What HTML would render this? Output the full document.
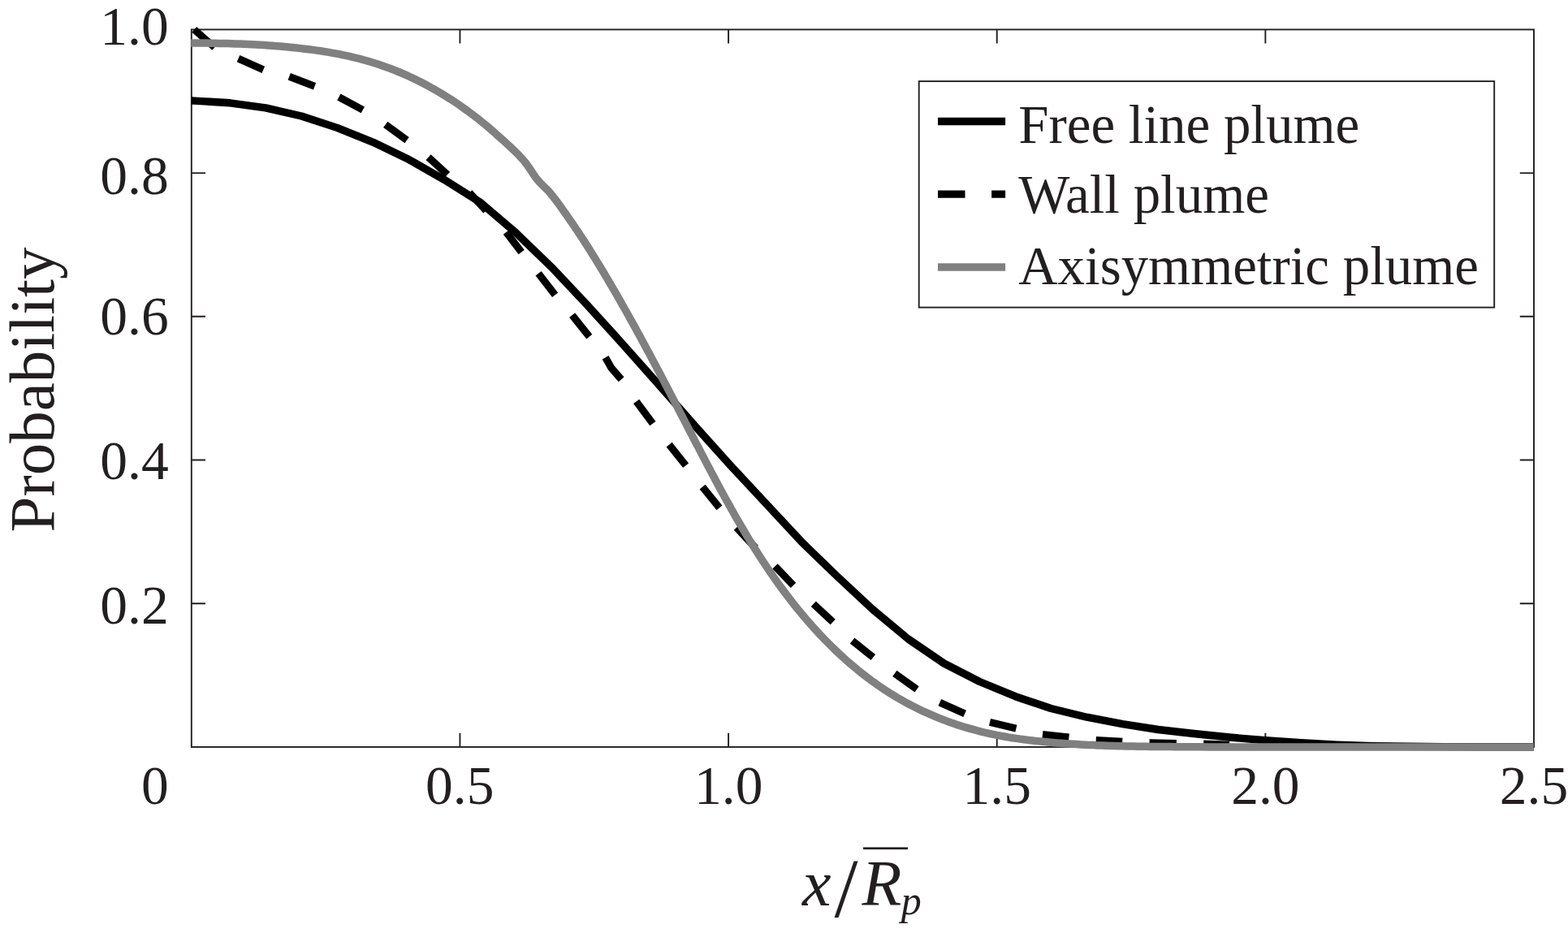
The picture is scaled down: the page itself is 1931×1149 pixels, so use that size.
<!DOCTYPE html>
<html lang="en">
<head>
<meta charset="utf-8">
<title>Probability versus x/R_p for free line, wall and axisymmetric plumes</title>
<style>
html,body{margin:0;padding:0;background:#fff;}
body{width:1931px;height:1149px;overflow:hidden;}
svg{display:block;}
text{font-family:"Liberation Serif","DejaVu Serif",serif;fill:#231f20;}
.it{font-style:italic;}
</style>
</head>
<body>
<svg width="1931" height="1149" viewBox="0 0 1931 1149">
<rect x="0" y="0" width="1931" height="1149" fill="#ffffff"/>
<g fill="none" stroke="#231f20" stroke-width="1.9">
<rect x="235.80" y="36.40" width="1653.20" height="883.55"/>
<path d="M566.44 919.95 V902.75 M566.44 36.40 V53.60"/>
<path d="M235.80 743.24 H253.00 M1889.00 743.24 H1871.80"/>
<path d="M897.08 919.95 V902.75 M897.08 36.40 V53.60"/>
<path d="M235.80 566.53 H253.00 M1889.00 566.53 H1871.80"/>
<path d="M1227.72 919.95 V902.75 M1227.72 36.40 V53.60"/>
<path d="M235.80 389.82 H253.00 M1889.00 389.82 H1871.80"/>
<path d="M1558.36 919.95 V902.75 M1558.36 36.40 V53.60"/>
<path d="M235.80 213.11 H253.00 M1889.00 213.11 H1871.80"/>
</g>
<g fill="none" stroke-linejoin="round">
<path stroke="#000" stroke-width="9.4" d="M235.8 124.0 L239.4 124.1 L283.4 126.8 L327.3 132.8 L371.3 143.0 L415.2 157.4 L459.2 175.1 L503.2 196.3 L547.1 221.3 L591.1 248.9 L635.0 286.3 L679.0 328.8 L723.0 375.4 L766.9 423.8 L810.9 473.3 L854.8 523.3 L898.8 572.4 L942.8 619.6 L986.7 666.8 L1030.7 709.5 L1074.6 750.4 L1118.6 787.0 L1162.6 817.0 L1206.5 839.5 L1250.5 857.7 L1294.4 872.5 L1338.4 883.2 L1382.4 891.6 L1426.3 898.5 L1470.3 903.5 L1514.2 908.0 L1558.2 911.8 L1602.2 914.7 L1646.1 917.1 L1690.1 918.6 L1734.0 919.3 L1778.0 919.6 L1822.0 919.7 L1865.9 919.7 L1888.8 919.7"/>
<g stroke="#000" stroke-width="9.0">
<path d="M239.2 36.4 L264.3 58.4"/>
<path d="M293.5 72.1 L324.3 85.8"/>
<path d="M356.2 94.2 L387.5 106.3"/>
<path d="M417.4 119.5 L446.8 135.4"/>
<path d="M474.7 153.3 L501.1 172.6"/>
<path d="M527.6 193.6 L551.0 215.1"/>
<path d="M578.1 237.2 L598.6 259.4"/>
<path d="M623.4 285.9 L642.2 310.6"/>
<path d="M663.1 336.8 L683.6 363.3"/>
<path d="M704.6 388.1 L725.8 414.6"/>
<path d="M745.6 440.2 L752.8 453.0 L765.1 467.2"/>
<path d="M783.6 494.4 L803.9 521.6"/>
<path d="M824.1 547.6 L844.6 573.2"/>
<path d="M865.1 599.7 L886.0 625.4"/>
<path d="M907.1 649.6 L930.5 674.9"/>
<path d="M954.5 697.4 L977.0 720.8"/>
<path d="M1001.8 743.8 L1025.7 766.0"/>
<path d="M1049.6 789.1 L1075.3 809.6"/>
<path d="M1101.8 829.3 L1129.1 848.9"/>
<path d="M1157.3 865.2 L1188.1 878.8"/>
<path d="M1219.0 889.4 L1251.4 897.1"/>
<path d="M1283.9 904.6 L1316.4 908.0"/>
<path d="M1349.7 911.5 L1382.2 913.2"/>
<path d="M1415.5 914.8 L1448.8 915.6"/>
<path d="M1482.1 915.9 L1514.0 917.2"/>
</g>
<path stroke="#808080" stroke-width="9.5" d="M235.2 52.9 L240.2 52.9 L245.2 53.0 L250.1 53.0 L255.1 53.1 L260.1 53.2 L265.1 53.3 L270.2 53.4 L275.2 53.5 L280.2 53.6 L285.2 53.8 L290.2 53.9 L295.2 54.1 L300.3 54.3 L305.3 54.5 L310.3 54.8 L315.3 55.1 L320.4 55.3 L325.4 55.6 L330.4 56.0 L335.4 56.3 L340.4 56.7 L345.4 57.1 L350.5 57.6 L355.4 58.0 L360.4 58.5 L365.4 59.0 L370.4 59.6 L375.4 60.2 L380.3 60.8 L385.3 61.4 L390.2 62.1 L395.2 62.8 L400.1 63.6 L405.0 64.4 L409.9 65.3 L414.8 66.2 L419.7 67.1 L424.5 68.2 L429.4 69.2 L434.2 70.3 L439.0 71.5 L443.8 72.7 L448.6 74.0 L453.4 75.3 L458.1 76.8 L462.9 78.2 L467.6 79.8 L472.3 81.4 L477.0 83.1 L481.6 84.8 L486.3 86.6 L490.9 88.5 L495.5 90.4 L500.0 92.4 L504.6 94.5 L509.1 96.6 L513.6 98.8 L518.1 101.0 L522.5 103.3 L526.9 105.7 L531.3 108.1 L535.7 110.5 L540.0 113.0 L544.3 115.6 L548.6 118.2 L552.9 120.9 L557.1 123.6 L561.3 126.4 L565.4 129.2 L569.5 132.1 L573.6 135.0 L577.7 138.0 L581.7 141.0 L585.7 144.0 L589.7 147.1 L593.6 150.3 L597.5 153.4 L601.3 156.7 L605.1 159.9 L608.9 163.3 L612.6 166.6 L616.3 169.9 L620.0 173.1 L623.6 176.4 L627.2 179.7 L630.7 183.0 L634.2 186.4 L637.7 189.8 L641.1 193.4 L644.5 197.1 L647.8 201.3 L651.2 206.0 L654.5 210.9 L657.7 215.8 L660.9 220.2 L664.1 223.9 L667.3 227.2 L670.4 230.3 L673.5 233.3 L676.6 236.6 L679.6 240.2 L682.6 244.0 L685.6 247.9 L688.6 252.0 L691.5 256.1 L694.4 260.2 L697.3 264.3 L700.2 268.4 L703.0 272.5 L705.9 276.6 L708.7 280.8 L711.5 284.9 L714.2 289.1 L717.0 293.2 L719.7 297.4 L722.4 301.6 L725.1 305.9 L727.8 310.2 L730.4 314.4 L733.1 318.7 L735.7 323.0 L738.3 327.2 L740.9 331.5 L743.5 335.8 L746.0 340.1 L748.6 344.4 L751.1 348.8 L753.7 353.1 L756.2 357.4 L758.7 361.7 L761.2 366.1 L763.7 370.4 L766.1 374.8 L768.6 379.1 L771.1 383.5 L773.5 387.8 L775.9 392.2 L778.4 396.6 L780.8 400.9 L783.2 405.3 L785.6 409.7 L788.0 414.1 L790.4 418.5 L792.8 422.9 L795.1 427.3 L797.5 431.7 L799.9 436.1 L802.2 440.5 L804.6 444.9 L806.9 449.3 L809.2 453.7 L811.6 458.1 L813.9 462.5 L816.2 466.9 L818.6 471.4 L820.9 475.8 L823.2 480.2 L825.5 484.6 L827.8 489.1 L830.1 493.5 L832.4 497.9 L834.7 502.3 L837.0 506.8 L839.3 511.2 L841.6 515.7 L843.9 520.1 L846.2 524.5 L848.5 529.0 L850.8 533.4 L853.1 537.8 L855.4 542.3 L857.7 546.7 L860.1 551.1 L862.4 555.6 L864.7 560.0 L867.0 564.4 L869.3 568.9 L871.6 573.3 L874.0 577.7 L876.3 582.1 L878.7 586.6 L881.0 591.0 L883.4 595.4 L885.7 599.8 L888.1 604.2 L890.5 608.6 L892.9 613.0 L895.3 617.3 L897.8 621.7 L900.2 626.1 L902.7 630.4 L905.1 634.8 L907.6 639.1 L910.1 643.4 L912.6 647.7 L915.2 652.0 L917.7 656.3 L920.3 660.6 L922.9 664.9 L925.5 669.1 L928.2 673.4 L930.8 677.6 L933.5 681.8 L936.2 686.0 L938.9 690.2 L941.7 694.4 L944.4 698.5 L947.2 702.7 L950.1 706.8 L952.9 710.9 L955.8 715.0 L958.7 719.1 L961.7 723.1 L964.6 727.1 L967.6 731.1 L970.7 735.1 L973.7 739.1 L976.8 743.1 L979.9 747.0 L983.1 750.9 L986.3 754.8 L989.5 758.6 L992.8 762.5 L996.0 766.3 L999.4 770.0 L1002.7 773.8 L1006.1 777.5 L1009.5 781.2 L1013.0 784.8 L1016.4 788.4 L1020.0 792.0 L1023.5 795.5 L1027.1 799.0 L1030.7 802.5 L1034.4 805.9 L1038.0 809.3 L1041.8 812.7 L1045.5 816.0 L1049.3 819.2 L1053.1 822.4 L1057.0 825.6 L1060.9 828.7 L1064.8 831.8 L1068.7 834.8 L1072.7 837.8 L1076.8 840.7 L1080.8 843.6 L1084.9 846.4 L1089.1 849.2 L1093.2 851.9 L1097.4 854.5 L1101.7 857.1 L1106.0 859.7 L1110.3 862.2 L1114.6 864.6 L1119.0 867.0 L1123.4 869.3 L1127.9 871.5 L1132.3 873.7 L1136.8 875.9 L1141.4 877.9 L1145.9 879.9 L1150.5 881.9 L1155.1 883.8 L1159.8 885.7 L1164.4 887.4 L1169.1 889.2 L1173.8 890.8 L1178.5 892.4 L1183.3 894.0 L1188.1 895.5 L1192.9 896.9 L1197.7 898.2 L1202.5 899.5 L1207.3 900.8 L1212.2 902.0 L1217.1 903.1 L1221.9 904.2 L1226.8 905.2 L1231.8 906.1 L1236.7 907.0 L1241.6 907.9 L1246.6 908.7 L1251.5 909.4 L1256.5 910.1 L1261.4 910.8 L1266.4 911.4 L1271.4 912.0 L1276.4 912.6 L1281.4 913.1 L1286.4 913.6 L1291.3 914.1 L1296.3 914.5 L1301.3 914.9 L1306.3 915.3 L1311.3 915.7 L1316.3 916.0 L1321.3 916.3 L1326.3 916.6 L1331.3 916.9 L1336.3 917.2 L1341.3 917.4 L1346.3 917.6 L1351.3 917.9 L1356.3 918.0 L1361.3 918.2 L1366.3 918.4 L1371.3 918.5 L1376.3 918.7 L1381.3 918.8 L1386.3 918.9 L1391.3 919.0 L1396.3 919.1 L1401.3 919.2 L1406.3 919.3 L1411.3 919.3 L1416.3 919.4 L1421.3 919.4 L1426.2 919.5 L1431.2 919.5 L1436.2 919.6 L1441.2 919.6 L1446.2 919.7 L1451.2 919.7 L1456.2 919.7 L1461.2 919.8 L1466.2 919.8 L1471.2 919.8 L1476.2 919.8 L1490.0 920.0 L1888.8 920.0"/>
</g>
<g font-size="67.50" text-anchor="end">
<text x="207.7" y="55.1">1.0</text>
<text x="207.7" y="238.9">0.8</text>
<text x="207.7" y="412.1">0.6</text>
<text x="207.7" y="590.0">0.4</text>
<text x="207.7" y="768.0">0.2</text>
<text x="207.7" y="990.0">0</text>
</g>
<g font-size="67.50" text-anchor="middle">
<text x="566.3" y="990">0.5</text>
<text x="897.2" y="990">1.0</text>
<text x="1227.8" y="990">1.5</text>
<text x="1558.4" y="990">2.0</text>
<text x="1889.0" y="990">2.5</text>
</g>
<text font-size="79.00" text-anchor="middle" transform="translate(66.1 480) rotate(-90)">Probability</text>
<g font-size="80.00">
<text class="it" x="988" y="1115">x</text>
<text x="1027.5" y="1129.2" font-size="104.7">/</text>
<text class="it" x="1061.5" y="1115">R</text>
<text class="it" x="1109.8" y="1126.2" font-size="50">p</text>
<rect x="1063" y="1043.4" width="55" height="2.7" fill="#231f20"/>
</g>
<rect x="1131.7" y="100.1" width="708.5" height="278.5" fill="#fff" stroke="#231f20" stroke-width="1.9"/>
<path d="M1155 149.5 H1238.1" stroke="#000" stroke-width="9.3" fill="none"/>
<path d="M1155 239.2 H1188.5 M1221.1 239.2 H1238.1" stroke="#000" stroke-width="9.3" fill="none"/>
<path d="M1155 329 H1238.1" stroke="#808080" stroke-width="9.5" fill="none"/>
<g font-size="66.90">
<text x="1254.3" y="175.8">Free line plume</text>
<text x="1254.3" y="261.9">Wall plume</text>
<text x="1254.3" y="349.6">Axisymmetric plume</text>
</g>
</svg>
</body>
</html>
